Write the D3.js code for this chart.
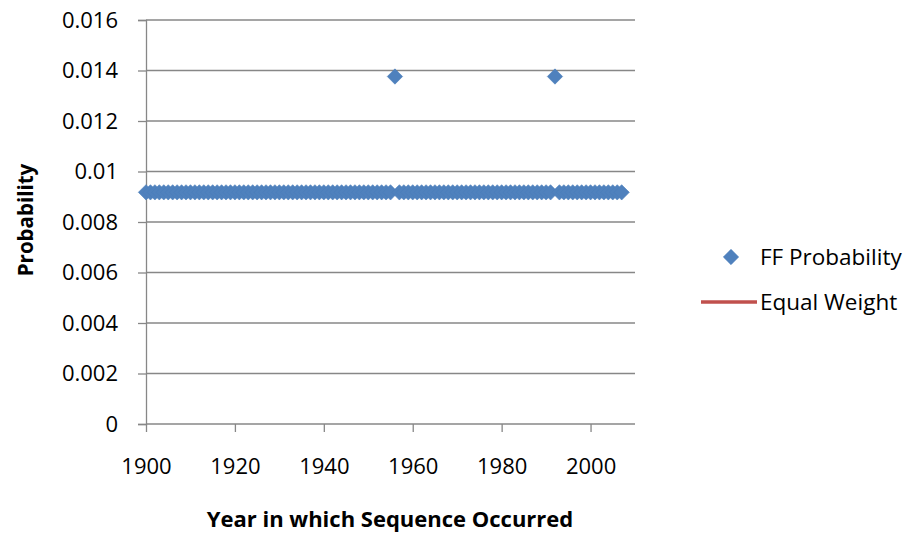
<!DOCTYPE html>
<html>
<head>
<meta charset="utf-8">
<script src="https://d3js.org/d3.v7.min.js"></script>
<style>
  html, body { margin: 0; padding: 0; background: #fff; }
  svg { display: block; font-family: "Open Sans", sans-serif; }
</style>
</head>
<body>
<svg id="chart" width="911" height="533"></svg>
<script>
// Years in which a sequence occurred (1900–2007)
const years = d3.range(1900, 2008);
// Years whose sequence carries the raised FF probability
const raisedYears = [1956, 1992];
const baseProbability = 1 / 109;      // ≈ 0.00917
const raisedProbability = 1.5 / 109;  // ≈ 0.01376
const ffProbability = years.map(y => raisedYears.includes(y) ? raisedProbability : baseProbability);
const equalWeight = years.map(() => baseProbability);

const yTicks = [0, 0.002, 0.004, 0.006, 0.008, 0.01, 0.012, 0.014, 0.016];
const yTickLabels = ["0", "0.002", "0.004", "0.006", "0.008", "0.01", "0.012", "0.014", "0.016"];
const xTicks = [1900, 1920, 1940, 1960, 1980, 2000];

const seriesNames = ["FF Probability", "Equal Weight"];
const colors = { ff: "#4F81BD", eq: "#C0504D", grid: "#878787", text: "#000" };
const font = "'Open Sans', sans-serif";

const svg = d3.select("#chart");
const plot = { left: 146, right: 635, top: 20, bottom: 424 };

const x = d3.scaleLinear().domain([1900, 2010]).range([plot.left, plot.right]);
const y = d3.scaleLinear().domain([0, 0.016]).range([plot.bottom, plot.top]);

// Horizontal gridlines
svg.append("g")
  .selectAll("line")
  .data(yTicks.filter(t => t > 0))
  .join("line")
  .attr("x1", plot.left).attr("x2", plot.right)
  .attr("y1", d => y(d)).attr("y2", d => y(d))
  .attr("stroke", colors.grid).attr("stroke-width", 1.3);

// Y axis
const yAxis = svg.append("g")
  .attr("transform", `translate(${plot.left},0)`)
  .call(d3.axisLeft(y).tickValues(yTicks).tickFormat((d, i) => yTickLabels[i]).tickSize(8).tickPadding(20));
yAxis.select(".domain").attr("stroke", colors.grid).attr("stroke-width", 1.3);
yAxis.selectAll(".tick line").attr("stroke", colors.grid).attr("stroke-width", 1.3);
yAxis.selectAll(".tick text").attr("font-size", 22).attr("fill", colors.text)
  .attr("font-family", font);

// X axis
const xAxis = svg.append("g")
  .attr("transform", `translate(0,${plot.bottom})`)
  .call(d3.axisBottom(x).tickValues(xTicks).tickFormat(d3.format("d")).tickSize(8).tickPadding(26));
xAxis.select(".domain").attr("stroke", colors.grid).attr("stroke-width", 1.3)
  .attr("d", `M${plot.left},0H${plot.right}`);
xAxis.selectAll(".tick line").attr("stroke", colors.grid).attr("stroke-width", 1.3);
xAxis.selectAll(".tick text").attr("font-size", 22).attr("fill", colors.text)
  .attr("font-family", font);

// Equal-weight reference line
svg.append("path")
  .datum(years.map((yr, i) => [yr, equalWeight[i]]))
  .attr("fill", "none")
  .attr("stroke", colors.eq)
  .attr("stroke-width", 3)
  .attr("d", d3.line().x(d => x(d[0])).y(d => y(d[1])));

// FF probability diamonds
const diamond = d3.symbol().type(d3.symbolDiamond2).size(150);
svg.append("g")
  .selectAll("path")
  .data(years.map((yr, i) => [yr, ffProbability[i]]))
  .join("path")
  .attr("transform", d => `translate(${x(d[0])},${y(d[1])})`)
  .attr("d", diamond)
  .attr("fill", colors.ff)
  .attr("stroke", "#4A7EBB")
  .attr("stroke-width", 0.6);

// Axis titles
svg.append("text")
  .attr("x", 390).attr("y", 527)
  .attr("text-anchor", "middle")
  .attr("font-size", 22).attr("font-weight", "bold")
  .attr("font-family", font)
  .text("Year in which Sequence Occurred");

svg.append("text")
  .attr("transform", "translate(33,220) rotate(-90)")
  .attr("text-anchor", "middle")
  .attr("font-size", 20.5).attr("font-weight", "bold")
  .attr("font-family", font)
  .text("Probability");

// Legend
const legend = svg.append("g");
legend.append("path")
  .attr("transform", "translate(731,257)")
  .attr("d", diamond)
  .attr("fill", colors.ff)
  .attr("stroke", "#4A7EBB").attr("stroke-width", 0.6);
legend.append("line")
  .attr("x1", 701).attr("x2", 757).attr("y1", 302).attr("y2", 302)
  .attr("stroke", colors.eq).attr("stroke-width", 3.5);
legend.selectAll("text.lbl")
  .data(seriesNames)
  .join("text")
  .attr("class", "lbl")
  .attr("x", 760)
  .attr("y", (d, i) => 257 + i * 45)
  .attr("dy", "0.35em")
  .attr("font-size", 22.5)
  .attr("font-family", font)
  .attr("fill", colors.text)
  .text(d => d);
</script>
</body>
</html>
